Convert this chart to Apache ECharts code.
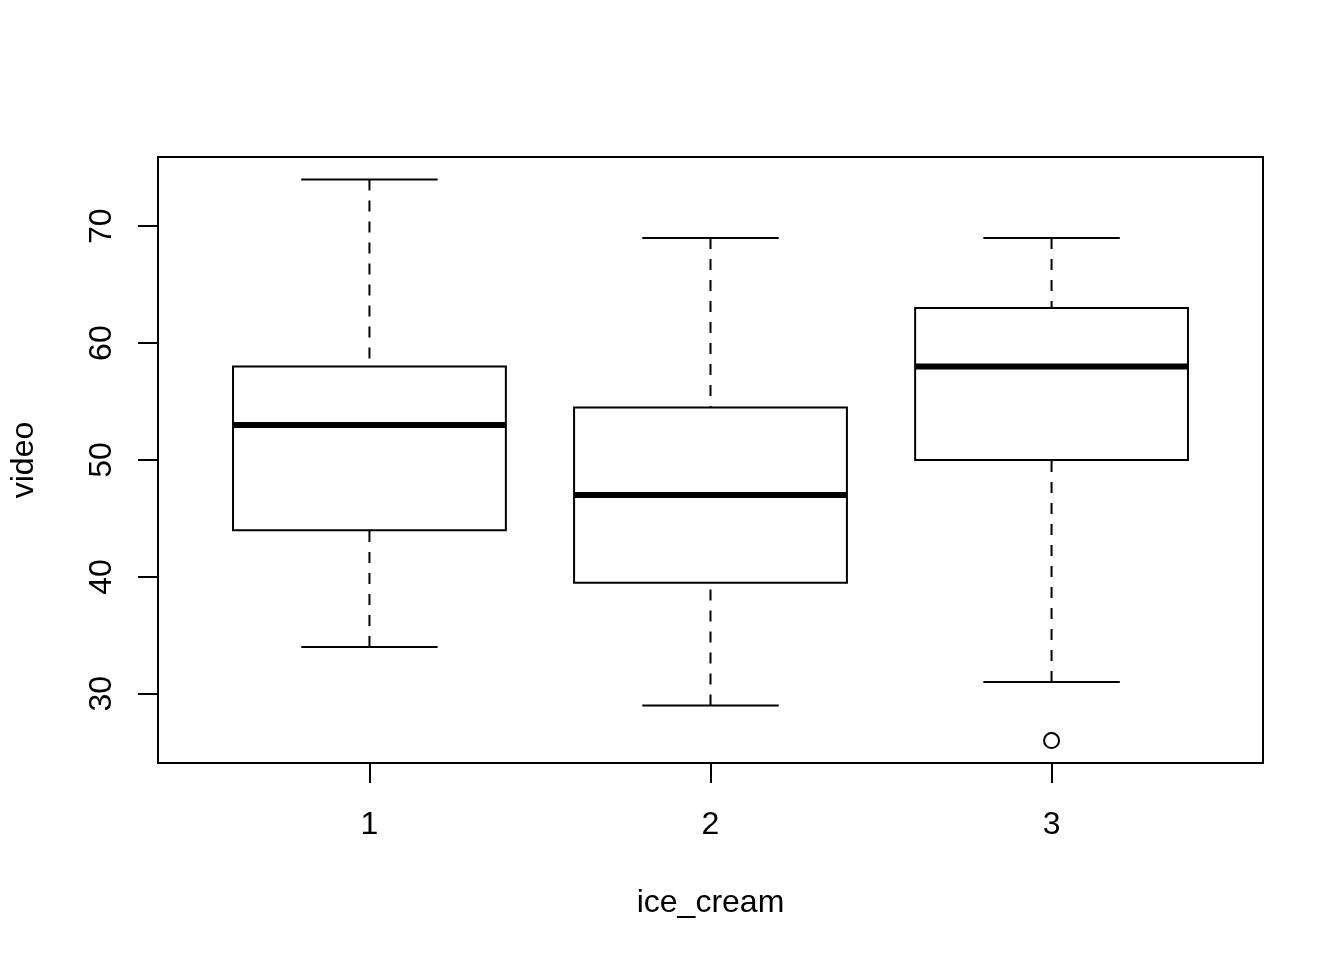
<!DOCTYPE html>
<html>
<head>
<meta charset="utf-8">
<script src="https://cdn.jsdelivr.net/npm/echarts@6/dist/echarts.min.js"></script>
<style>
html,body{margin:0;padding:0;background:#fff;}
#chart{width:1344px;height:960px;}
</style>
</head>
<body>
<div id="chart"></div>
<script>
// Data
const categories = [1, 2, 3];
const lowWhisker = [34, 29, 31];
const q1 = [44, 39.5, 50];
const median = [53, 47, 58];
const q3 = [58, 54.5, 63];
const highWhisker = [74, 69, 69];
const outlierGroup = [3];
const outlierValue = [26];
const yTicks = [30, 40, 50, 60, 70];
const xTicks = [1, 2, 3];

const boxData = categories.map((c, i) => [c, lowWhisker[i], q1[i], median[i], q3[i], highWhisker[i]]);
const outlierData = outlierGroup.map((g, i) => [g, outlierValue[i]]);

const FONT = "'Liberation Sans', Arial, Helvetica, sans-serif";
const chart = echarts.init(document.getElementById('chart'), null, {renderer: 'canvas'});

function renderBox(params, api) {
  const x = api.value(0);
  const lo = api.value(1), a = api.value(2), m = api.value(3), b = api.value(4), hi = api.value(5);
  const boxW = api.size([0.8, 0])[0];
  const capW = api.size([0.4, 0])[0];
  const pLo = api.coord([x, lo]);
  const pA = api.coord([x, a]);
  const pM = api.coord([x, m]);
  const pB = api.coord([x, b]);
  const pHi = api.coord([x, hi]);
  const cx = pM[0];
  const dash = {stroke: '#000', lineWidth: 2, lineDash: [11, 10], fill: null};
  const solid = {stroke: '#000', lineWidth: 2, fill: null};
  return {
    type: 'group',
    children: [
      {type: 'line', shape: {x1: cx, y1: pHi[1], x2: cx, y2: pB[1]}, style: dash},
      {type: 'line', shape: {x1: cx, y1: pLo[1], x2: cx, y2: pA[1]}, style: dash},
      {type: 'line', shape: {x1: cx - capW / 2, y1: pHi[1], x2: cx + capW / 2, y2: pHi[1]}, style: solid},
      {type: 'line', shape: {x1: cx - capW / 2, y1: pLo[1], x2: cx + capW / 2, y2: pLo[1]}, style: solid},
      {type: 'rect', shape: {x: cx - boxW / 2, y: pB[1], width: boxW, height: pA[1] - pB[1]},
        style: {stroke: '#000', lineWidth: 2, fill: '#fff'}},
      {type: 'line', shape: {x1: cx - boxW / 2, y1: pM[1], x2: cx + boxW / 2, y2: pM[1]},
        style: {stroke: '#000', lineWidth: 6, lineCap: 'butt'}}
    ]
  };
}

chart.setOption({
  backgroundColor: '#fff',
  animation: false,
  grid: {
    left: 157, right: 81, top: 157, bottom: 197,
    show: true, borderColor: '#000', borderWidth: 2, backgroundColor: 'transparent'
  },
  xAxis: {
    type: 'value',
    min: 0.38, max: 3.62,
    name: 'ice_cream',
    nameLocation: 'middle',
    nameGap: 124,
    nameTextStyle: {fontFamily: FONT, fontSize: 32, color: '#000'},
    axisLine: {show: false},
    axisTick: {show: true, inside: false, length: 20, customValues: xTicks, lineStyle: {color: '#000', width: 2}},
    axisLabel: {show: true, margin: 46, customValues: xTicks, fontFamily: FONT, fontSize: 32, color: '#000'},
    splitLine: {show: false}
  },
  yAxis: {
    type: 'value',
    min: 24.08, max: 75.92,
    name: 'video',
    nameLocation: 'middle',
    nameGap: 118,
    nameRotate: 90,
    nameTextStyle: {fontFamily: FONT, fontSize: 32, color: '#000'},
    axisLine: {show: false},
    axisTick: {show: true, inside: false, length: 20, customValues: yTicks, lineStyle: {color: '#000', width: 2}},
    axisLabel: {show: true, margin: 40, rotate: 90, customValues: yTicks, fontFamily: FONT, fontSize: 32, color: '#000'},
    splitLine: {show: false}
  },
  series: [
    {
      type: 'custom',
      renderItem: renderBox,
      data: boxData,
      encode: {x: 0, y: [1, 2, 3, 4, 5]},
      z: 2
    },
    {
      type: 'scatter',
      data: outlierData,
      symbol: 'circle',
      symbolSize: 15,
      itemStyle: {color: '#fff', borderColor: '#000', borderWidth: 2, opacity: 1},
      z: 3
    }
  ]
});
</script>
</body>
</html>
